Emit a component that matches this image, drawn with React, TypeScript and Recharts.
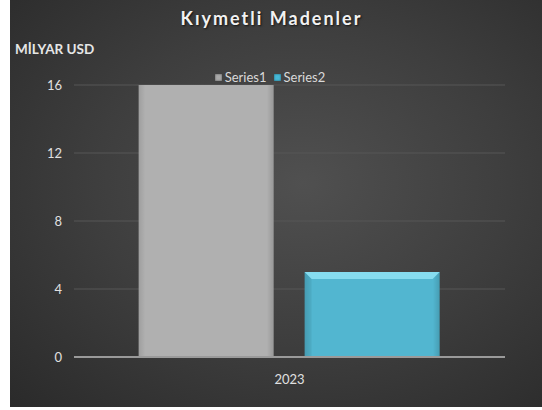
import { BarChart, Bar, XAxis, YAxis, CartesianGrid, Legend } from 'recharts'

const categories = ['2023']
const series1 = [16]
const series2 = [5]
const yTicks = [0, 4, 8, 12, 16]

const data = categories.map((year, i) => ({
  year,
  Series1: series1[i],
  Series2: series2[i],
}))

const FONT = 'Lato, "Open Sans", sans-serif'

function BevelBar(props: any) {
  const { x, y, width, height, fill, bevel, id } = props
  if (!height || height <= 0) return null
  const b = bevel ? 7 : 0
  return (
    <g>
      <defs>
        <linearGradient id={`edge-${id}`} x1="0" x2="1" y1="0" y2="0">
          <stop offset="0" stopColor="#000" stopOpacity={0.1} />
          <stop offset="0.05" stopColor="#000" stopOpacity={0} />
          <stop offset="0.95" stopColor="#000" stopOpacity={0} />
          <stop offset="1" stopColor="#000" stopOpacity={0.14} />
        </linearGradient>
      </defs>
      <rect x={x} y={y} width={width} height={height} fill={fill} />
      <rect x={x} y={y} width={width} height={height} fill={`url(#edge-${id})`} />
      {bevel && (
        <>
          <polygon
            points={`${x},${y} ${x + width},${y} ${x + width - b},${y + b} ${x + b},${y + b}`}
            fill="#86dcef"
          />
          <polygon
            points={`${x},${y} ${x + b},${y + b} ${x + b},${y + height} ${x},${y + height}`}
            fill="#000"
            fillOpacity={0.05}
          />
        </>
      )}
    </g>
  )
}

function LegendContent() {
  const items = [
    { name: 'Series1', color: '#a9a9a9' },
    { name: 'Series2', color: '#46b8d6' },
  ]
  return (
    <div style={{ display: 'flex', justifyContent: 'center', gap: 7, fontFamily: FONT, fontSize: 13, color: '#d9d9d9' }}>
      {items.map((it) => (
        <div key={it.name} style={{ display: 'flex', alignItems: 'center' }}>
          <span
            style={{
              display: 'inline-block',
              width: 7,
              height: 7,
              marginRight: 3,
              background: it.color,
              boxShadow: 'inset 0 0 2px rgba(0,0,0,0.6)',
            }}
          />
          {it.name}
        </div>
      ))}
    </div>
  )
}

export default function App() {
  return (
    <div
      style={{
        position: 'absolute',
        left: 10,
        top: 0,
        width: 532,
        height: 407,
        background: 'radial-gradient(ellipse at 55% 45%, #505050 0%, #3e3e3e 50%, #2a2a2a 100%)',
        fontFamily: FONT,
      }}
    >
      <div
        style={{
          position: 'absolute',
          left: 0,
          width: 532,
          top: 7,
          textAlign: 'center',
          paddingRight: 9,
          boxSizing: 'border-box',
          color: '#f2f2f2',
          fontSize: 18,
          fontWeight: 700,
          letterSpacing: 2,
          textShadow: '1px 1px 2px rgba(0,0,0,0.7)',
        }}
      >
        Kıymetli Madenler
      </div>
      <div
        style={{
          position: 'absolute',
          left: 5,
          top: 41,
          color: '#e6e6e6',
          fontSize: 13.5,
          fontWeight: 700,
        }}
      >
        MİLYAR USD
      </div>
      <BarChart
        width={532}
        height={407}
        data={data}
        margin={{ top: 85, right: 37, bottom: 20, left: 14 }}
        barCategoryGap="15%"
        barGap={31}
      >
        <CartesianGrid vertical={false} stroke="#575757" strokeWidth={1} />
        <XAxis
          dataKey="year"
          axisLine={{ stroke: '#9a9a9a', strokeWidth: 2 }}
          tickLine={false}
          tick={{ fill: '#e0e0e0', fontSize: 13, fontFamily: FONT }}
          tickMargin={12}
        />
        <YAxis
          domain={[0, 16]}
          ticks={yTicks}
          width={50}
          axisLine={false}
          tickLine={false}
          tickMargin={6}
          tick={{ fill: '#e0e0e0', fontSize: 13, fontFamily: FONT }}
        />
        <Legend
          layout="horizontal"
          verticalAlign="middle"
          align="center"
          content={<LegendContent />}
          wrapperStyle={{ top: 69, left: 0, width: 520 }}
        />
        <Bar
          dataKey="Series1"
          fill="#b0b0b0"
          isAnimationActive={false}
          shape={(p: any) => <BevelBar {...p} id="s1" />}
        />
        <Bar
          dataKey="Series2"
          fill="#52b6d0"
          isAnimationActive={false}
          shape={(p: any) => <BevelBar {...p} id="s2" bevel />}
        />
      </BarChart>
    </div>
  )
}
